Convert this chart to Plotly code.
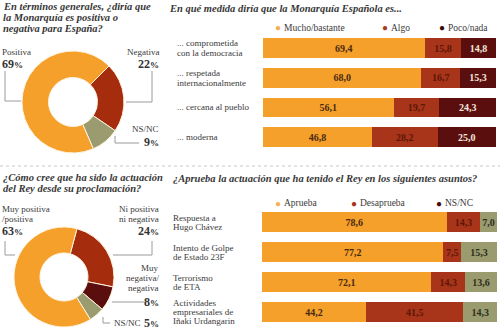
import plotly.graph_objects as go

# ---------------- data ----------------
pie1_labels = ["Negativa", "NS/NC", "Positiva"]
pie1_values = [22, 9, 69]

pie2_labels = ["Ni positiva ni negativa", "Muy negativa/negativa", "NS/NC", "Muy positiva/positiva"]
pie2_values = [24, 8, 5, 63]

top_categories = ["... comprometida<br>con la democracia", "... respetada<br>internacionalmente",
                  "... cercana al pueblo", "... moderna"]
top_series = ["Mucho/bastante", "Algo", "Poco/nada"]
top_mucho = [69.4, 68.0, 56.1, 46.8]
top_algo = [15.8, 16.7, 19.7, 28.2]
top_poco = [14.8, 15.3, 24.3, 25.0]

bot_categories = ["Respuesta a<br>Hugo Chávez", "Intento de Golpe<br>de Estado 23F",
                  "Terrorismo<br>de ETA", "Actividades<br>empresariales de<br>Iñaki Urdangarin"]
bot_series = ["Aprueba", "Desaprueba", "NS/NC"]
bot_aprueba = [78.6, 77.2, 72.1, 44.2]
bot_desaprueba = [14.3, 7.5, 14.3, 41.5]
bot_nsnc = [7.0, 15.3, 13.6, 14.3]

# ---------------- style ----------------
W, H = 500, 330
SERIF = "Liberation Serif"
ORANGE = "#F5A02A"
RED = "#A8351A"
PIE_RED = "#A52D0E"
MAROON = "#5A0E0E"
OLIVE = "#9A9B6F"
TXT = "#3a3a3a"
LEAD = "#9a9a9a"


def fx(x):
    return x / W


def fy(y):
    return 1 - y / H


def fmt(v):
    return f"{v:.1f}".replace(".", ",")


fig = go.Figure()

# ---------------- donuts ----------------
fig.add_trace(go.Pie(
    values=pie1_values, labels=pie1_labels, sort=False, direction="clockwise", rotation=45,
    hole=0.48, textinfo="none", hoverinfo="skip", showlegend=False,
    marker=dict(colors=[PIE_RED, OLIVE, ORANGE], line=dict(color="#fff4e0", width=1)),
    domain=dict(x=[fx(21), fx(125)], y=[fy(153), fy(51)]),
))
fig.add_trace(go.Pie(
    values=pie2_values, labels=pie2_labels, sort=False, direction="clockwise", rotation=15,
    hole=0.48, textinfo="none", hoverinfo="skip", showlegend=False,
    marker=dict(colors=[PIE_RED, MAROON, OLIVE, ORANGE], line=dict(color="#fff4e0", width=1)),
    domain=dict(x=[fx(14), fx(114)], y=[fy(327), fy(227)]),
))

# ---------------- stacked bars ----------------
top_idx = list(range(len(top_categories)))
bot_idx = list(range(len(bot_categories)))

top_specs = [(top_mucho, ORANGE, "#4a2a10"), (top_algo, RED, "#5e1608"), (top_poco, MAROON, "#f3e6da")]
for name, (vals, col, tcol) in zip(top_series, top_specs):
    fig.add_trace(go.Bar(
        x=vals, y=top_idx, orientation="h", name=name, marker=dict(color=col, line=dict(width=0)),
        text=[f"<b>{fmt(v)}</b>" for v in vals], textposition="inside", insidetextanchor="middle",
        textangle=0, constraintext="none", textfont=dict(family=SERIF, size=10, color=tcol),
        hoverinfo="skip", showlegend=False, xaxis="x", yaxis="y",
    ))

bot_specs = [(bot_aprueba, ORANGE, "#4a2a10"), (bot_desaprueba, RED, "#5e1608"), (bot_nsnc, OLIVE, "#2e2e1c")]
for name, (vals, col, tcol) in zip(bot_series, bot_specs):
    fig.add_trace(go.Bar(
        x=vals, y=bot_idx, orientation="h", name=name, marker=dict(color=col, line=dict(width=0)),
        text=[f"<b>{fmt(v)}</b>" for v in vals], textposition="inside", insidetextanchor="middle",
        textangle=0, constraintext="none", textfont=dict(family=SERIF, size=10, color=tcol),
        hoverinfo="skip", showlegend=False, xaxis="x2", yaxis="y2",
    ))

top_max = max(a + b + c for a, b, c in zip(top_mucho, top_algo, top_poco))
bot_max = max(a + b + c for a, b, c in zip(bot_aprueba, bot_desaprueba, bot_nsnc))

# ---------------- annotations ----------------
ann = []


def text(x, y, s, size=9, color=TXT, anchor="left"):
    ann.append(dict(x=fx(x), y=fy(y), xref="paper", yref="paper", text=s, showarrow=False,
                    xanchor=anchor, yanchor="middle", borderpad=0,
                    font=dict(family=SERIF, size=size, color=color)))


def title(x, ys, lines):
    for y, line in zip(ys, lines):
        text(x, y, f"<b><i>{line}</i></b>", size=10.5, color="#383838")


title(2, [6.5, 17.5, 28.5], ["En términos generales, ¿diría que", "la Monarquía es positiva o",
                             "negativa para España?"])
title(168, [8], ["En qué medida diría que la Monarquía Española es..."])
title(2, [177, 188], ["¿Cómo cree que ha sido la actuación", "del Rey desde su proclamación?"])
title(172, [178], ["¿Aprueba la actuación que ha tenido el Rey en los siguientes asuntos?"])


def pct(v):
    return f"<b>{v}</b><b><span style='font-size:9px'>%</span></b>"


# donut 1 labels
text(1, 52, pie1_labels[2]); text(1, 64, pct(pie1_values[2]), size=12, color="#333")
text(160, 52, pie1_labels[0], anchor="right"); text(160, 64, pct(pie1_values[0]), size=12, color="#333", anchor="right")
text(160, 129, pie1_labels[1], anchor="right"); text(160, 142, pct(pie1_values[1]), size=12, color="#333", anchor="right")

# donut 2 labels
text(1, 209, "Muy positiva"); text(1, 219, "/positiva"); text(1, 231, pct(pie2_values[3]), size=12, color="#333")
text(160, 209, "Ni positiva", anchor="right"); text(160, 219, "ni negativa", anchor="right")
text(160, 231, pct(pie2_values[0]), size=12, color="#333", anchor="right")
text(160, 268, "Muy", anchor="right"); text(160, 278, "negativa/", anchor="right"); text(160, 288, "negativa", anchor="right")
text(160, 302, pct(pie2_values[1]), size=12, color="#333", anchor="right")
text(142, 323, pie2_labels[2], anchor="right"); text(160, 323, pct(pie2_values[2]), size=12, color="#333", anchor="right")

# row labels (placed on the bar rows via y axis)
def row_labels(cats, yref, x, spacing):
    for i, c in enumerate(cats):
        lines = c.split("<br>")
        n = len(lines)
        for k, line in enumerate(lines):
            off = ((n - 1) / 2 - k) * spacing
            ann.append(dict(x=fx(x), y=i, xref="paper", yref=yref, text=line, showarrow=False,
                            xanchor="left", yanchor="middle", yshift=off, borderpad=0,
                            font=dict(family=SERIF, size=9, color=TXT)))


row_labels(top_categories, "y", 176, 10)
row_labels(bot_categories, "y2", 172, 9)

# legends (circle + label)
def legend(y, items):
    for x, label, col in items:
        text(x, y, "●", size=10, color=col, anchor="center")
        text(x + 5, y, label, size=9.5, color=TXT)


legend(28, [(278, top_series[0], "#F5AE52"), (385, top_series[1], "#A8401F"), (442, top_series[2], "#3E0808")])
legend(203, [(278, bot_series[0], "#F5B257"), (354, bot_series[1], "#A8321A"), (439, bot_series[2], "#4A0A0A")])

# ---------------- leader lines ----------------
shapes = []


def poly(points):
    for (x0, y0), (x1, y1) in zip(points[:-1], points[1:]):
        shapes.append(dict(type="line", xref="paper", yref="paper", x0=fx(x0), y0=fy(y0),
                           x1=fx(x1), y1=fy(y1), line=dict(color=LEAD, width=1)))


poly([(5, 71), (5, 101), (21, 101)])
poly([(152, 71), (152, 102), (126, 102)])
poly([(115, 136), (115, 143), (139, 143)])
poly([(5, 241), (5, 255), (15, 255)])
poly([(152, 241), (152, 255), (113, 255)])
poly([(112, 302), (145, 302)])
poly([(103, 317), (103, 323), (110, 323)])

# dotted separator
shapes.append(dict(type="line", xref="paper", yref="paper", x0=0, x1=1, y0=fy(166), y1=fy(166),
                   line=dict(color="#c8c8c8", width=1, dash="dot")))

fig.update_layout(
    width=W, height=H, margin=dict(l=0, r=0, t=0, b=0),
    paper_bgcolor="white", plot_bgcolor="white",
    barmode="stack", bargap=0.33, showlegend=False,
    annotations=ann, shapes=shapes,
    xaxis=dict(domain=[fx(263), fx(496)], range=[0, top_max], visible=False, fixedrange=True),
    yaxis=dict(domain=[fy(152), fy(33.2)], range=[len(top_categories) - 0.5, -0.5], visible=False,
               fixedrange=True),
    xaxis2=dict(domain=[fx(262), fx(497)], range=[0, bot_max], visible=False, anchor="y2", fixedrange=True),
    yaxis2=dict(domain=[fy(327), fy(207)], range=[len(bot_categories) - 0.5, -0.5], visible=False,
                anchor="x2", fixedrange=True),
)

fig.write_html("out.html")
